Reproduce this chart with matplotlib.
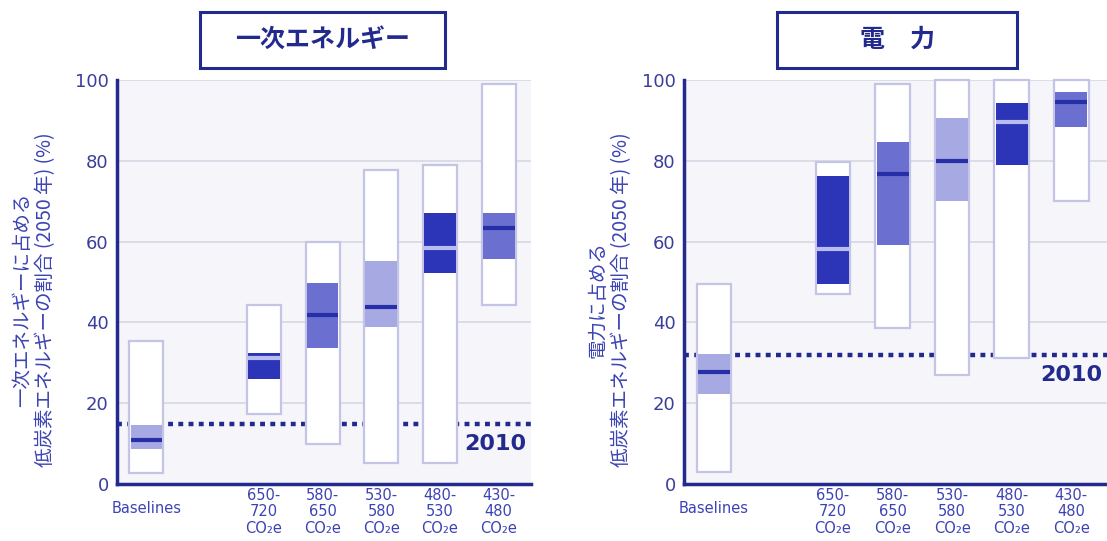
import numpy as np
import matplotlib
matplotlib.use('Agg')
import matplotlib.pyplot as plt
from matplotlib.patches import Rectangle
from matplotlib.transforms import ScaledTranslation

plt.rcParams['font.family'] = ['Noto Sans CJK JP', 'DejaVu Sans']

# categories (scenario groups, ppm CO2e) and x positions
categories = ['Baselines', '650-\n720\nCO₂e', '580-\n650\nCO₂e', '530-\n580\nCO₂e',
              '480-\n530\nCO₂e', '430-\n480\nCO₂e']
xpos = [0, 2, 3, 4, 5, 6]
# shade level of the inner box (0 light, 1 medium, 2 dark)
shade = [0, 2, 1, 0, 2, 1]

# primary energy: low-carbon share in 2050 (%)
pe_min = [2.6, 17.2, 9.9, 5.2, 5.3, 44.4]
pe_max = [35.3, 44.4, 59.9, 77.6, 78.9, 99.1]
pe_q1 = [8.6, 25.9, 33.6, 38.8, 52.2, 55.6]
pe_q3 = [14.5, 32.3, 49.8, 55.2, 67.1, 67.1]
pe_med = [10.8, 31.2, 41.8, 43.8, 58.4, 63.4]
pe_2010 = 14.8

# electricity: low-carbon share in 2050 (%)
el_min = [3.0, 47.0, 38.6, 27.0, 31.3, 70.0]
el_max = [49.4, 79.6, 99.1, 100.0, 100.0, 100.0]
el_q1 = [22.3, 49.6, 59.2, 70.1, 79.0, 88.4]
el_q3 = [32.1, 76.2, 84.7, 90.6, 94.4, 97.0]
el_med = [27.6, 58.2, 76.7, 80.0, 89.7, 94.6]
el_2010 = 32.0

navy = '#232a8e'
blue = '#3c43b4'
box_cols = ['#a7aae2', '#6a6fd0', '#2c35b8']
med_cols = ['#262fa8', '#262fa8', '#b9bcee']


def panel(ax, vmin, vmax, q1, q3, med, ref, xmax):
    ax.set_facecolor('#f5f5fa')
    for y in [20, 40, 60, 80, 100]:
        ax.axhline(y, color='#d8d8e2', lw=1.2, zorder=0)
    ax.axhline(ref, color=navy, lw=3.2, ls=(0, (1.1, 1.2)), zorder=1)
    for i in range(len(xpos)):
        x = xpos[i]
        w = 0.58
        ax.add_patch(Rectangle((x - w / 2, vmin[i]), w, vmax[i] - vmin[i],
                               facecolor='white', edgecolor='#c3c4e6', lw=1.6,
                               zorder=2, clip_on=False))
        ax.add_patch(Rectangle((x - w / 2 + 0.02, q1[i]), w - 0.04, q3[i] - q1[i],
                               facecolor=box_cols[shade[i]], edgecolor='none', zorder=3))
        ax.plot([x - w / 2 + 0.02, x + w / 2 - 0.02], [med[i], med[i]],
                color=med_cols[shade[i]], lw=3, zorder=4, solid_capstyle='butt')
    ax.text(xmax - 0.08, ref - 2.5, '2010', ha='right', va='top',
            fontsize=16, fontweight='bold', color=navy, family=['DejaVu Sans'])
    ax.set_xlim(-0.5, xmax)
    ax.set_ylim(0, 100)
    ax.set_yticks([0, 20, 40, 60, 80, 100])
    ax.set_yticklabels(['0', '20', '40', '60', '80', '100'], family=['DejaVu Sans'])
    ax.set_xticks(xpos)
    ax.set_xticklabels(categories, fontsize=10.5, color=blue, linespacing=1.1,
                       family=['DejaVu Sans'])
    ax.tick_params(axis='y', length=0, labelsize=13, labelcolor='#3a3f9a', pad=6)
    ax.tick_params(axis='x', length=0, pad=3)
    # baseline label sits a little lower than the others
    lab = ax.get_xticklabels()[0]
    lab.set_transform(lab.get_transform() + ScaledTranslation(0, -9 / 72, fig.dpi_scale_trans))
    for s in ['top', 'right']:
        ax.spines[s].set_visible(False)
    for s in ['left', 'bottom']:
        ax.spines[s].set_color(navy)
        ax.spines[s].set_linewidth(2.5)


def title_box(x0, x1, title):
    y0, y1 = 1 - 68 / 541, 1 - 12 / 541
    fig.add_artist(Rectangle((x0, y0), x1 - x0, y1 - y0, transform=fig.transFigure,
                             facecolor='white', edgecolor=navy, lw=2.2))
    fig.text((x0 + x1) / 2, (y0 + y1) / 2, title, ha='center', va='center',
             fontsize=18, fontweight='bold', color=navy)


fig = plt.figure(figsize=(11.07, 5.41), dpi=100)
ax1 = fig.add_axes([0.1057, 0.1054, 0.374, 0.7468])
ax2 = fig.add_axes([0.618, 0.1054, 0.382, 0.7468])

panel(ax1, pe_min, pe_max, pe_q1, pe_q3, pe_med, pe_2010, 6.55)
panel(ax2, el_min, el_max, el_q1, el_q3, el_med, el_2010, 6.6)

title_box(200 / 1107, 445 / 1107, '一次エネルギー')
title_box(777 / 1107, 1017 / 1107, '電　力')

fig.text(34 / 1107, 1 - 300 / 541, '一次エネルギーに占める\n低炭素エネルギーの割合 (2050 年) (%)',
         rotation=90, ha='center', va='center', multialignment='center',
         fontsize=14, color=blue, linespacing=1.15)
fig.text(610 / 1107, 1 - 300 / 541, '電力に占める\n低炭素エネルギーの割合 (2050 年) (%)',
         rotation=90, ha='center', va='center', multialignment='center',
         fontsize=14, color=blue, linespacing=1.15)

fig.savefig('out.png', dpi=100)
